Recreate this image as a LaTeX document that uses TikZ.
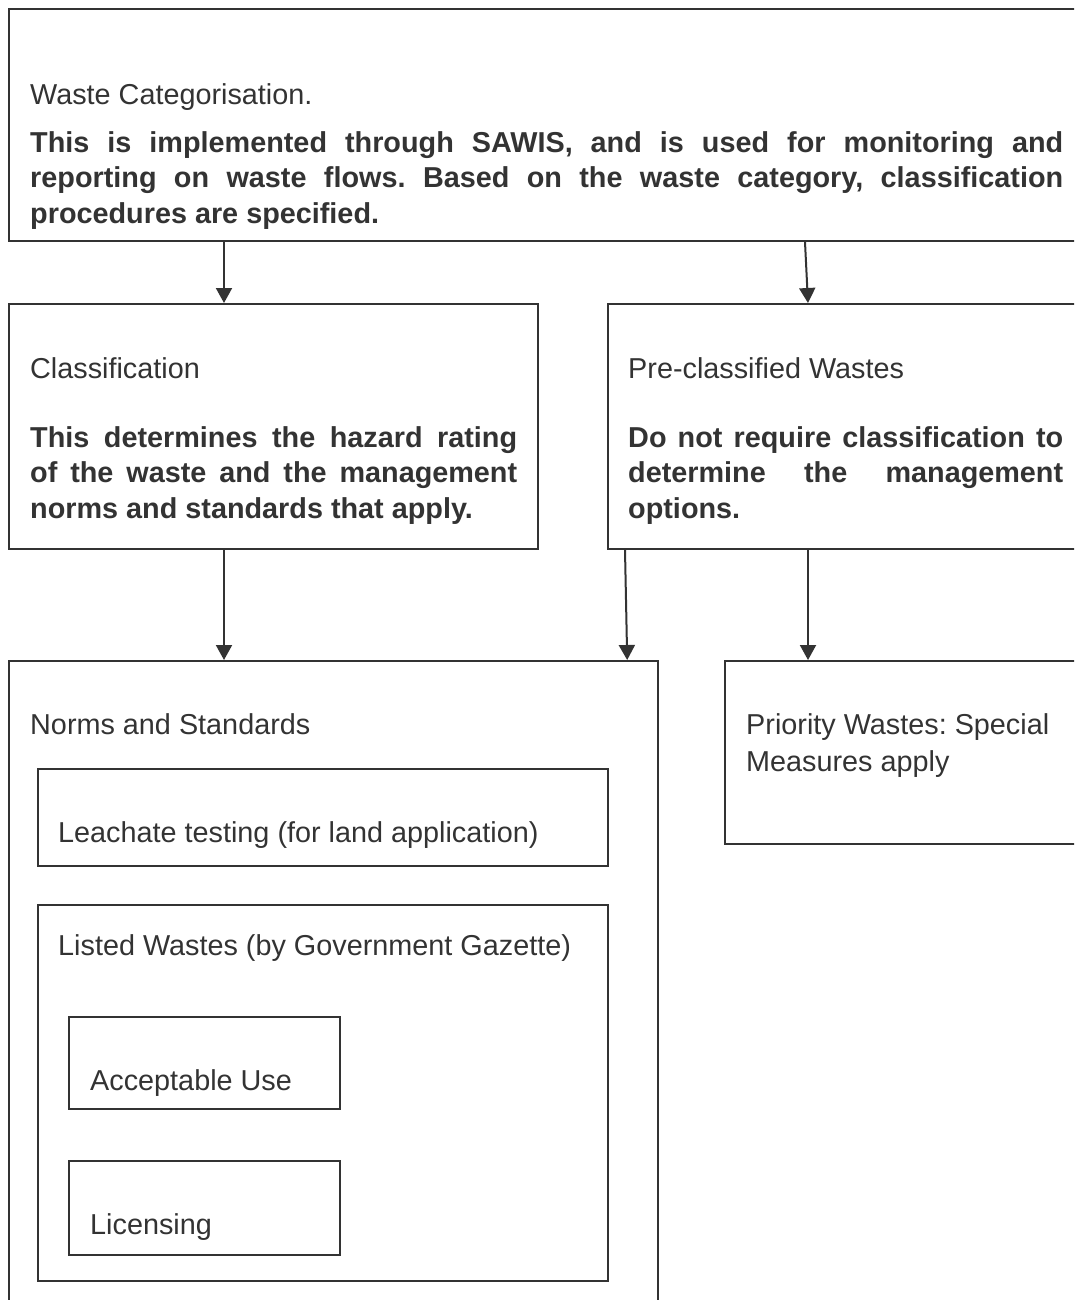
\documentclass[tikz,border=0pt]{standalone}
\usepackage{fontspec}
\setmainfont{Liberation Sans}
\usetikzlibrary{arrows.meta}
\definecolor{ink}{RGB}{51,51,51}
\tikzset{
  box/.style={draw=ink, line width=2.2pt, anchor=north west, inner sep=0pt},
  lbl/.style={anchor=base west, inner sep=0pt, text=ink, font=\fontsize{28.8}{37}\selectfont\frenchspacing},
  para/.style={anchor=north west, inner sep=0pt, text=ink, align=justify, text width=#1,
    font=\fontsize{28.8}{35.5}\selectfont\bfseries\frenchspacing},
  arr/.style={draw=ink, line width=2pt, -{Triangle[length=15pt,width=16pt]}}
}
\begin{document}
\begin{tikzpicture}[x=1pt,y=-1pt]
\useasboundingbox (0,0) rectangle (1074,1300);
\clip (0,0) rectangle (1074,1300);
\node[box, minimum width=1100, minimum height=232] (cat) at (8,8){};
\node[box, minimum width=529, minimum height=245] (cls) at (8,303){};
\node[box, minimum width=500, minimum height=245] (pre) at (607,303){};
\node[box, minimum width=649, minimum height=700] (norms) at (8,660){};
\node[box, minimum width=400, minimum height=183] (prio) at (724,660){};
\node[box, minimum width=570, minimum height=97] (leach) at (37,768){};
\node[box, minimum width=570, minimum height=376] (listed) at (37,904){};
\node[box, minimum width=271, minimum height=92] (accept) at (68,1016){};
\node[box, minimum width=271, minimum height=94] (licen) at (68,1160){};
\node[lbl] (cattitle) at (30,105){Waste Categorisation.};
\node[para=1033] (cattext) at (30,131){\hyphenpenalty=10000 This is implemented through SAWIS, and is used for monitoring and\linebreak reporting on waste flows. Based on the waste category, classification\linebreak procedures are specified.};
\node[lbl] (clstitle) at (30,378){Classification};
\node[para=487] (clstext) at (30,426){\hyphenpenalty=10000 This determines the hazard rating\linebreak of the waste and the management\linebreak norms and standards that apply.};
\node[lbl] (pretitle) at (628,378){Pre-classified Wastes};
\node[para=435] (pretext) at (628,426){\hyphenpenalty=10000 Do not require classification to\linebreak determine the management\linebreak options.};
\node[lbl] (normstitle) at (30,734){Norms and Standards};
\node[lbl, anchor=north west, align=left] (priotext) at (746,713){Priority Wastes: Special\\Measures apply};
\node[lbl] (leachtext) at (58,842){Leachate testing (for land application)};
\node[lbl] (listedtext) at (58,955){Listed Wastes (by Government Gazette)};
\node[lbl] (accepttext) at (90,1090){Acceptable Use};
\node[lbl] (licentext) at (90,1234){Licensing};
\draw[arr] ([xshift=216]cat.south west) -- ([xshift=216]cls.north west);
\draw[arr] ([xshift=797]cat.south west) -- ([xshift=201]pre.north west);
\draw[arr] ([xshift=216]cls.south west) -- ([xshift=216]norms.north west);
\draw[arr] ([xshift=18]pre.south west) -- ([xshift=-32]norms.north east);
\draw[arr] ([xshift=201]pre.south west) -- ([xshift=84]prio.north west);
\end{tikzpicture}
\end{document}
